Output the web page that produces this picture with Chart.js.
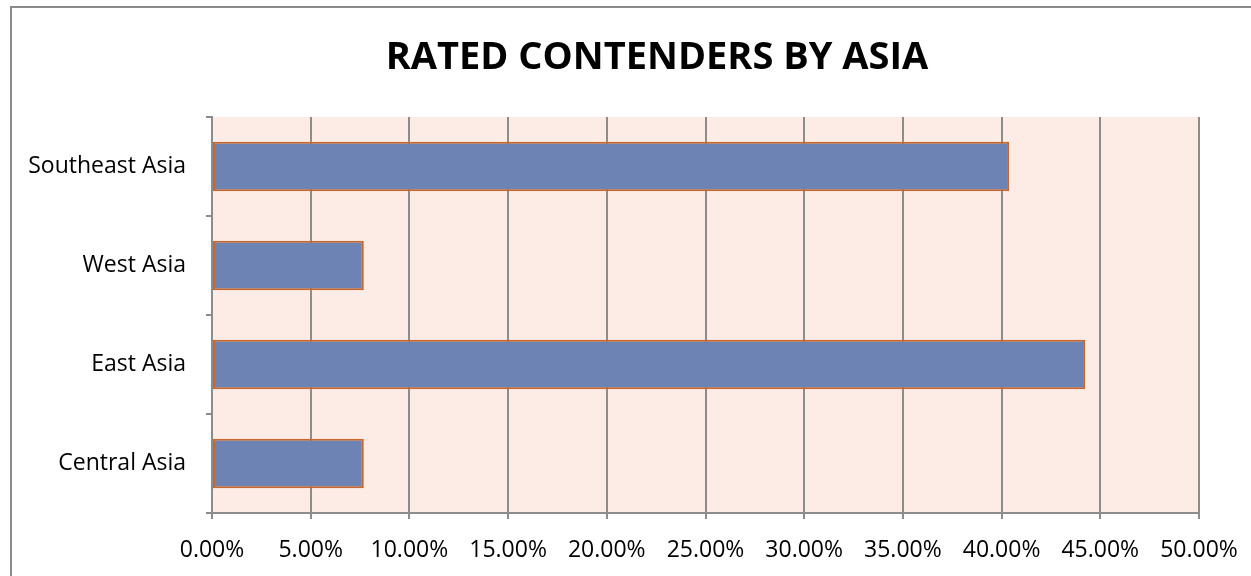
<!DOCTYPE html>
<html>
<head>
<meta charset="utf-8">
<script src="https://cdn.jsdelivr.net/npm/chart.js@4/dist/chart.umd.min.js"></script>
<style>
  html, body { margin: 0; padding: 0; background: #fff; }
  #wrap { width: 1251px; height: 576px; }
</style>
</head>
<body>
<div id="wrap"><canvas id="asiaChart" width="1251" height="576"></canvas></div>
<script>
// Chart data (share of rated contenders, in percent)
const regions = ['Southeast Asia', 'West Asia', 'East Asia', 'Central Asia'];
const shares = [40.38, 7.69, 44.23, 7.69];
const axisMax = 50;
const axisStep = 5;
const chartTitle = 'RATED CONTENDERS BY ASIA';

// Plot area fill, outer frame and the title (centred on the whole frame, like Excel)
const frameAndBackground = {
    id: 'frameAndBackground',
    beforeDraw(chart) {
        const ctx = chart.ctx;
        const a = chart.chartArea;
        ctx.save();
        ctx.fillStyle = '#fdece5';
        ctx.fillRect(a.left, a.top, a.right - a.left, a.bottom - a.top);
        ctx.strokeStyle = '#8a8a8a';
        ctx.lineWidth = 2;
        ctx.strokeRect(11, 7, 1300, 620); // right and bottom edges fall outside the picture
        ctx.fillStyle = '#000';
        ctx.font = 'bold 38px "Open Sans"';
        ctx.textAlign = 'center';
        ctx.textBaseline = 'middle';
        ctx.fillText(chartTitle, 657, 58);
        ctx.restore();
    }
};

const ctx = document.getElementById('asiaChart').getContext('2d');
new Chart(ctx, {
    type: 'bar',
    data: {
        labels: regions,
        datasets: [{
            data: shares,
            backgroundColor: '#6d83b4',
            borderColor: '#c8672e',
            borderWidth: 2,
            borderSkipped: false,
            barPercentage: 0.5,
            categoryPercentage: 1.0
        }]
    },
    options: {
        indexAxis: 'y',
        responsive: false,
        animation: false,
        layout: { padding: { left: 0, right: 52, top: 117, bottom: 0 } },
        plugins: {
            legend: { display: false },
            tooltip: { enabled: false },
            title: { display: false }
        },
        scales: {
            x: {
                min: 0,
                max: axisMax,
                ticks: {
                    stepSize: axisStep,
                    color: '#000',
                    padding: 18,
                    font: { family: 'Open Sans', size: 23 },
                    callback: v => v.toFixed(2) + '%'
                },
                grid: { color: '#8c8c8c', lineWidth: 2, tickLength: 6 },
                border: { color: '#8c8c8c', width: 2 },
                afterFit(scale) {
                    scale.height = 63;
                    scale.paddingLeft = 0;
                    scale.paddingRight = 0;
                }
            },
            y: {
                ticks: {
                    color: '#000',
                    padding: 20,
                    font: { family: 'Open Sans', size: 23 }
                },
                grid: { drawOnChartArea: false, color: '#8c8c8c', lineWidth: 2, tickLength: 6 },
                border: { color: '#8c8c8c', width: 2 },
                afterFit(scale) { scale.width = 212; }
            }
        }
    },
    plugins: [frameAndBackground]
});
</script>
</body>
</html>
